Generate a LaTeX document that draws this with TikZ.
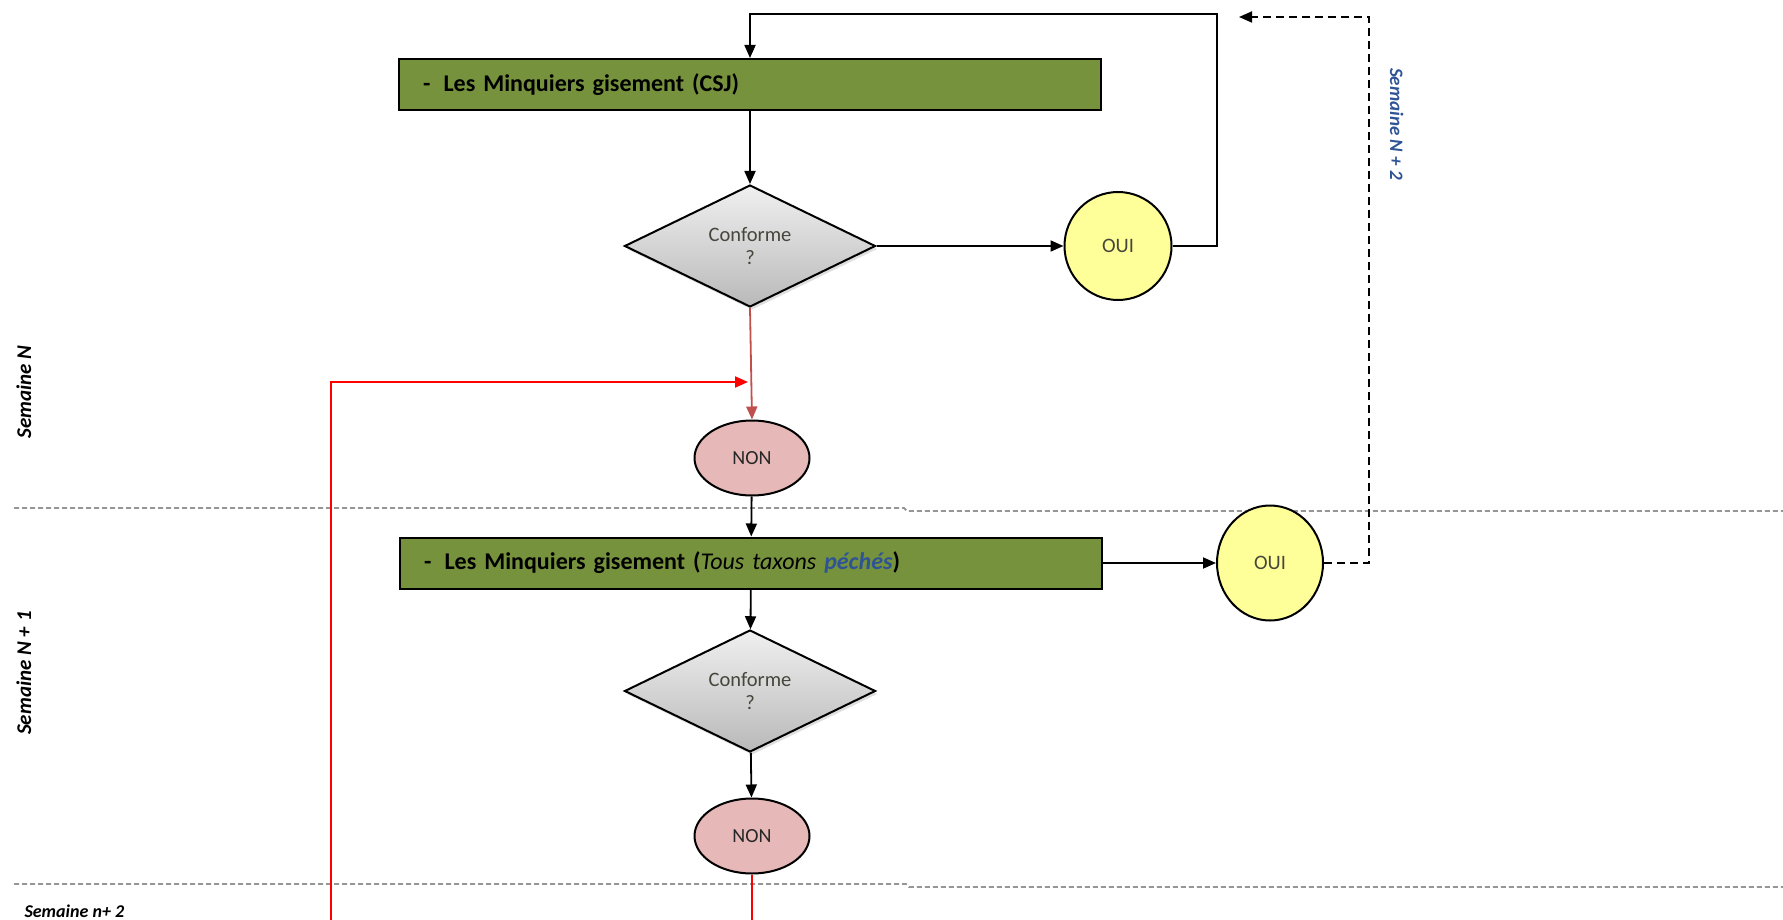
\documentclass[tikz,border=0pt]{standalone}
\usepackage{fontspec}
\setmainfont{Carlito}
\usetikzlibrary{shapes.geometric,arrows.meta,shadows}
\definecolor{boxgreen}{RGB}{118,146,60}
\definecolor{ouiyellow}{RGB}{255,255,153}
\definecolor{nonpink}{RGB}{230,185,184}
\definecolor{darkred}{RGB}{192,80,77}
\definecolor{weekblue}{RGB}{47,84,150}
\definecolor{sepgray}{RGB}{150,150,150}
\definecolor{labelgray}{RGB}{70,70,60}

\begin{document}
\begin{tikzpicture}[x=1pt,y=-1pt,
	sitebox/.style={draw, line width=2pt, fill=boxgreen, minimum width=702pt, minimum height=51pt, inner xsep=24pt, text width=654pt, align=left, font=\fontsize{24}{28}\selectfont\bfseries},
	test/.style={diamond, draw, line width=2pt, top color=gray!12, bottom color=gray!55, minimum width=251pt, minimum height=122pt, inner sep=0pt, align=center, text=labelgray, font=\fontsize{20.5}{23}\selectfont, drop shadow={opacity=0.25, shadow xshift=2pt, shadow yshift=-3pt}},
	oui/.style={ellipse, draw, line width=2pt, fill=ouiyellow, inner sep=0pt, text=labelgray, font=\fontsize{20.5}{22}\selectfont},
	non/.style={ellipse, draw, line width=2pt, fill=nonpink, inner sep=0pt, minimum width=115pt, minimum height=75pt, text=black!85, font=\fontsize{20}{22}\selectfont},
	flow/.style={line width=1.8pt, -{Triangle[length=13pt,width=11pt]}},
	redflow/.style={flow, red, line width=2pt},
	dflow/.style={flow, dash pattern=on 8pt off 5pt},
	sep/.style={sepgray, line width=1.8pt, dash pattern=on 5pt off 3pt},
	week/.style={font=\fontsize{21}{24}\selectfont\bfseries\itshape}
	]
	\useasboundingbox (0,0) rectangle (1783,920);

	% week separators
	\foreach \y/\s in {508/904, 884/906}
		{
			\draw[sep] (14,\y) -- (\s,\y) -- (\s+3,\y+3) -- (1783,\y+3);
		}
	\foreach \y/\t [count=\i] in {392/Semaine N, 673/Semaine N + 1}
		{
			\node[week, rotate=90, anchor=base] (weekL\i) at (31,\y){\t};
		}
	\node[week, font=\fontsize{18}{20}\selectfont\bfseries\itshape, anchor=base west] (weekL3) at (21,917){Semaine n+ 2};
	\node[week, font=\fontsize{19}{22}\selectfont\bfseries\itshape, text=weekblue, rotate=-90, anchor=base] (weekR) at (1390,124){Semaine N + 2};

	% week N
	\node[sitebox] (boxA) at (750,84.5){-\hspace{0.55em}Les Minquiers gisement (CSJ)};
	\node[test] (testA) at (750,246){Conforme\\?};
	\node[oui, minimum width=107pt, minimum height=108pt] (ouiA) at (1118,246){OUI};
	\node[non] (nonA) at (752,458){NON};

	% week N + 1
	\node[sitebox] (boxB) at (751,563){-\hspace{0.55em}Les Minquiers gisement ({\mdseries\itshape Tous taxons \textcolor{weekblue}{\bfseries péchés}})};
	\node[test] (testB) at (750,691){Conforme\\?};
	\node[non] (nonB) at (752,836){NON};
	\node[oui, minimum width=106pt, minimum height=115pt] (ouiB) at (1270,563){OUI};

	\coordinate (redend) at (748,382);
	\coordinate (dashend) at (1239,17);

	\draw[flow] (boxA) -- (testA);
	\draw[flow] (testA) -- (ouiA);
	\draw[flow] (ouiA.east) -| (1217,14) -| (boxA.north);
	\draw[flow, darkred] (testA.south) -- (nonA.north);
	\draw[flow] (nonA) -- (boxB);
	\draw[flow] (boxB) -- (ouiB);
	\draw[flow] (boxB) -- (testB);
	\draw[flow] (testB) -- (nonB);
	\draw[dflow] (ouiB.east) -| (1369,17) -- (dashend);
	\draw[redflow] (nonB.south) -- ++(0,70) -| (331,382) -- (redend);
\end{tikzpicture}
\end{document}
